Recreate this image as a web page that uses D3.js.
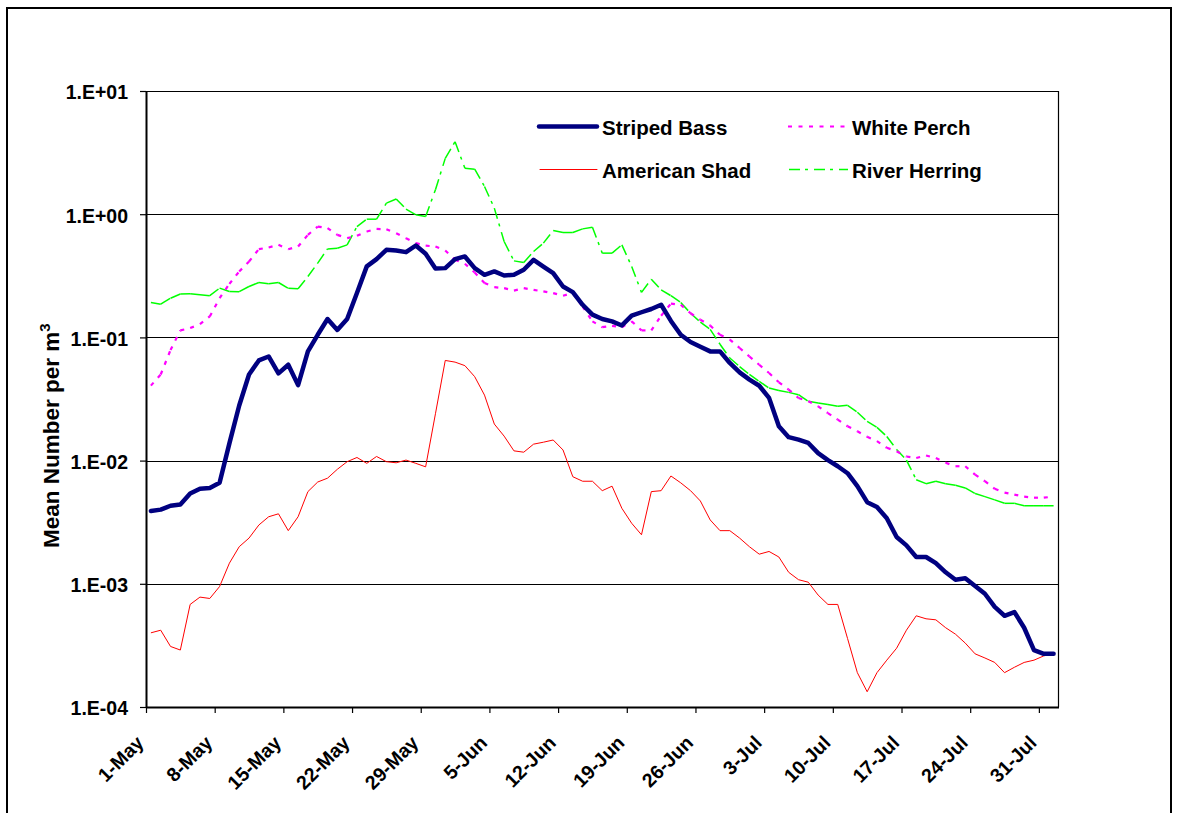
<!DOCTYPE html>
<html>
<head>
<meta charset="utf-8">
<script src="https://cdn.jsdelivr.net/npm/d3@7"></script>
<style>
  html, body { margin: 0; padding: 0; background: #fff; }
  svg text { font-family: "Liberation Sans", Arial, sans-serif; font-weight: bold; fill: #000; }
</style>
</head>
<body>
<svg id="chart" width="1177" height="813"></svg>
<script>
// ---------------- DATA ----------------
const startDate = new Date(2000, 4, 1);   // 1-May
const dayCount = 93;                        // 1-May .. 1-Aug (daily)
const tickLabels = ["1-May","8-May","15-May","22-May","29-May","5-Jun","12-Jun","19-Jun","26-Jun","3-Jul","10-Jul","17-Jul","24-Jul","31-Jul"];
const yTickValues = [1e-4, 1e-3, 1e-2, 1e-1, 1, 10];
const yTickLabels = ["1.E-04","1.E-03","1.E-02","1.E-01","1.E+00","1.E+01"];

const stripedBass = [0.0039,0.0040,0.0043,0.0044,0.0054,0.0059,0.0060,0.0066,0.0138,0.028,
  0.050,0.065,0.070,0.051,0.060,0.041,0.077,0.105,0.141,0.115,
  0.141,0.229,0.377,0.432,0.514,0.507,0.492,0.557,0.477,0.362,
  0.365,0.432,0.454,0.365,0.322,0.343,0.318,0.322,0.354,0.426,
  0.376,0.332,0.259,0.233,0.184,0.153,0.141,0.135,0.125,0.150,
  0.160,0.170,0.184,0.136,0.105,0.0917,0.084,0.077,0.077,0.062,
  0.052,0.0454,0.0405,0.0323,0.0190,0.0155,0.0148,0.0139,0.0115,0.0101,
  0.0090,0.0079,0.0062,0.0046,0.0042,0.0034,0.0024,0.00205,0.00165,0.00165,
  0.00147,0.00124,0.00108,0.00111,0.00096,0.00083,0.00065,0.00055,0.00059,0.00044,
  0.00029,0.00027,0.00027];

const americanShad = [0.00040,0.00042,0.00031,0.00029,0.00068,0.00078,0.00076,0.00095,0.00147,0.0020,
  0.00235,0.0030,0.0035,0.0037,0.0027,0.0035,0.0056,0.0067,0.0072,0.0085,
  0.0098,0.0106,0.0095,0.0108,0.0098,0.0096,0.0101,0.0095,0.0089,0.024,
  0.065,0.063,0.059,0.048,0.034,0.0198,0.0158,0.0120,0.0117,0.0136,
  0.0141,0.0147,0.0122,0.0074,0.0068,0.0068,0.0057,0.0062,0.0041,0.0031,
  0.0025,0.0056,0.0057,0.0075,0.0066,0.0057,0.0047,0.0033,0.0027,0.0027,
  0.00235,0.0020,0.00174,0.00183,0.00165,0.00124,0.00108,0.00103,0.00081,0.00068,
  0.00068,0.00036,0.00019,0.000133,0.00019,0.00024,0.00030,0.00042,0.00055,0.00052,
  0.00051,0.00044,0.00039,0.00033,0.00027,0.00025,0.00023,0.00019,0.00021,0.00023,
  0.00024,0.00026,0.00027];

const whitePerch = [0.0406,0.050,0.079,0.114,0.119,0.128,0.148,0.208,0.272,0.343,
  0.413,0.520,0.537,0.564,0.520,0.547,0.680,0.794,0.770,0.680,
  0.639,0.667,0.723,0.760,0.755,0.701,0.639,0.582,0.555,0.547,
  0.507,0.426,0.396,0.336,0.276,0.256,0.251,0.240,0.251,0.243,
  0.236,0.229,0.218,0.229,0.178,0.135,0.121,0.124,0.121,0.135,
  0.114,0.114,0.150,0.188,0.184,0.157,0.139,0.125,0.105,0.096,
  0.082,0.070,0.060,0.0514,0.0432,0.0377,0.0322,0.0303,0.0276,0.0243,
  0.0215,0.0190,0.0173,0.0156,0.0144,0.0127,0.0119,0.0108,0.0105,0.0110,
  0.0105,0.0096,0.0090,0.0090,0.0077,0.0068,0.0059,0.0055,0.0053,0.0051,
  0.0050,0.0050,0.0051];

const riverHerring = [0.192,0.186,0.208,0.225,0.226,0.222,0.218,0.251,0.236,0.235,
  0.259,0.279,0.272,0.279,0.250,0.248,0.312,0.401,0.523,0.530,
  0.564,0.794,0.911,0.911,1.23,1.33,1.10,0.988,0.957,1.58,
  2.84,3.88,2.36,2.32,1.68,1.12,0.600,0.418,0.406,0.498,
  0.582,0.737,0.710,0.710,0.760,0.785,0.483,0.483,0.564,0.376,
  0.232,0.297,0.243,0.218,0.192,0.157,0.133,0.116,0.088,0.068,
  0.058,0.050,0.044,0.0388,0.0371,0.0358,0.0343,0.0303,0.0294,0.0285,
  0.0276,0.0281,0.0247,0.0208,0.0186,0.0157,0.0123,0.0101,0.0070,0.0065,
  0.0068,0.0065,0.0063,0.0060,0.0054,0.0051,0.0048,0.0045,0.0045,0.0043,
  0.0043,0.0043,0.0043];

const seriesNames = ["Striped Bass","White Perch","American Shad","River Herring"];

// ---------------- CHART ----------------
const svg = d3.select("#chart");
const W = 1177, H = 813;
const plot = {left: 146, right: 1058.5, top: 91, bottom: 707};
const FONT = "'Liberation Sans', Arial, sans-serif";

svg.append("rect").attr("x",0).attr("y",0).attr("width",W).attr("height",H).attr("fill","#fff");
// outer chart-area frame
svg.append("rect").attr("x",7).attr("y",8).attr("width",1164).attr("height",830)
  .attr("fill","none").attr("stroke","#000").attr("stroke-width",2);

const dates = d3.timeDay.range(startDate, d3.timeDay.offset(startDate, dayCount));
const x = d3.scaleTime()
  .domain([startDate, d3.timeDay.offset(startDate, dayCount)])
  .range([plot.left, plot.right]);
const y = d3.scaleLog().domain([1e-4, 10]).range([plot.bottom, plot.top]);

const xPos = i => x(d3.timeHour.offset(dates[i], 12));

// gridlines
svg.append("g").selectAll("line").data(yTickValues.slice(1, -1)).join("line")
  .attr("x1", plot.left).attr("x2", plot.right)
  .attr("y1", d => Math.round(y(d)) + 0.5).attr("y2", d => Math.round(y(d)) + 0.5)
  .attr("stroke", "#000").attr("stroke-width", 1);

// plot frame top + right
svg.append("path")
  .attr("d", `M${plot.left},${plot.top + 0.5}H${plot.right}V${plot.bottom}`)
  .attr("fill","none").attr("stroke","#000").attr("stroke-width",1.2);

// y axis
const yAxis = d3.axisLeft(y).tickValues(yTickValues)
  .tickFormat((d,i) => yTickLabels[i]).tickSizeInner(6).tickSizeOuter(0).tickPadding(12);
const gy = svg.append("g").attr("transform", `translate(${plot.left},0)`).call(yAxis);
gy.select(".domain").attr("stroke-width", 2);
gy.selectAll(".tick line").attr("stroke-width", 1.2);
gy.selectAll("text").attr("font-size", 19.5).attr("dy", "0.4em")
  .style("font-family", FONT).style("font-weight","bold");

// x axis
const tickDates = tickLabels.map((_, i) => d3.timeDay.offset(startDate, i * 7));
const xAxis = d3.axisBottom(x).tickValues(tickDates)
  .tickFormat((d,i) => tickLabels[i]).tickSizeInner(6).tickSizeOuter(0);
const gx = svg.append("g").attr("transform", `translate(0,${plot.bottom})`).call(xAxis);
gx.select(".domain").attr("stroke-width", 2);
gx.selectAll(".tick line").attr("stroke-width", 1.2);
gx.selectAll("text")
  .attr("font-size", 19.5)
  .style("font-family", FONT).style("font-weight","bold")
  .attr("text-anchor","end")
  .attr("x", 0).attr("y", 0).attr("dy", 0)
  .attr("transform","translate(-1.5,37) rotate(-45)");

// series drawing
const line = d3.line().x((d,i) => xPos(i)).y(d => y(d));

// dashed styles restart at each data point (as in the original spreadsheet chart)
function segmented(values, color, width, dash) {
  const g = svg.append("g");
  for (let i = 0; i < values.length - 1; i++) {
    g.append("line")
      .attr("x1", xPos(i)).attr("y1", y(values[i]))
      .attr("x2", xPos(i+1)).attr("y2", y(values[i+1]))
      .attr("stroke", color).attr("stroke-width", width)
      .attr("stroke-dasharray", dash).attr("stroke-linecap","butt");
  }
}

const herringDash = "11,5,3,6";
const perchDash = "4,6.5";

svg.append("path").datum(americanShad).attr("d", line)
  .attr("fill","none").attr("stroke","#ff0000").attr("stroke-width",1);
segmented(riverHerring, "#00ff00", 1.5, herringDash);
segmented(whitePerch, "#ff00ff", 2.2, perchDash);
svg.append("path").datum(stripedBass).attr("d", line)
  .attr("fill","none").attr("stroke","#000080").attr("stroke-width",4.5)
  .attr("stroke-linejoin","round").attr("stroke-linecap","round");

// legend
const legend = [
  {name: seriesNames[0], x1: 539, x2: 597, tx: 602, y: 126.5, color:"#000080", w:4.5, dash:null},
  {name: seriesNames[2], x1: 540, x2: 597, tx: 602, y: 169.5, color:"#ff0000", w:1, dash:null},
  {name: seriesNames[1], x1: 788, x2: 845, tx: 852, y: 126.5, color:"#ff00ff", w:2.2, dash:perchDash},
  {name: seriesNames[3], x1: 789, x2: 848, tx: 852, y: 169.5, color:"#00ff00", w:1.5, dash:herringDash}
];
const lg = svg.append("g");
legend.forEach(l => {
  lg.append("line").attr("x1", l.x1).attr("x2", l.x2).attr("y1", l.y).attr("y2", l.y)
    .attr("stroke", l.color).attr("stroke-width", l.w).attr("stroke-dasharray", l.dash)
    .attr("stroke-linecap", l.dash ? "butt" : "round");
  lg.append("text").attr("x", l.tx).attr("y", l.y + 8.5)
    .attr("font-size", 20.5).text(l.name);
});

// y axis title
const yt = svg.append("text")
  .attr("transform", "translate(59,548) rotate(-90)")
  .attr("text-anchor","start").attr("font-size", 22.5);
yt.append("tspan").text("Mean Number per m");
yt.append("tspan").attr("dy", -9).attr("font-size", 15).text("3");
</script>
</body>
</html>
